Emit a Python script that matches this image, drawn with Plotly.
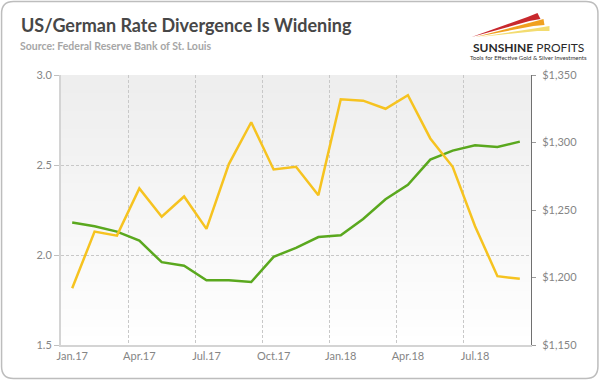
import plotly.graph_objects as go

months = ["Jan.17", "Feb.17", "Mar.17", "Apr.17", "May.17", "Jun.17", "Jul.17",
          "Aug.17", "Sep.17", "Oct.17", "Nov.17", "Dec.17", "Jan.18", "Feb.18",
          "Mar.18", "Apr.18", "May.18", "Jun.18", "Jul.18", "Aug.18", "Sep.18"]
rate_spread = [2.18, 2.16, 2.13, 2.08, 1.96, 1.94, 1.86, 1.86, 1.85, 1.99, 2.04,
               2.10, 2.11, 2.20, 2.31, 2.39, 2.53, 2.58, 2.61, 2.60, 2.63]
gold_price = [1192, 1234, 1231, 1266, 1245, 1260, 1236, 1284, 1315, 1280, 1282,
              1261, 1332, 1331, 1325, 1335, 1303, 1282, 1238, 1201, 1199]
left_ticks = [1.5, 2.0, 2.5, 3.0]
right_ticks = [1150, 1200, 1250, 1300, 1350]
right_labels = [f"${v:,}" for v in right_ticks]

W, H = 600, 380
L, R, T, B = 61, 531.5, 75, 345


def px(x):
    return (x - L) / (R - L)


def py(y):
    return (B - y) / (B - T)


fig = go.Figure()
fig.add_trace(go.Scatter(x=months, y=rate_spread, mode="lines",
                         line=dict(color="#5aa81e", width=2.5), yaxis="y",
                         showlegend=False))
fig.add_trace(go.Scatter(x=months, y=gold_price, mode="lines",
                         line=dict(color="#f6c320", width=2.5), yaxis="y2",
                         showlegend=False))

shapes = []
# gradient plot background
n = 30
for i in range(n):
    y0 = T + (B - T) * i / n
    y1 = T + (B - T) * (i + 1) / n
    t = i / (n - 1)
    c = int(238 + (255 - 238) * t)
    shapes.append(dict(type="rect", xref="paper", yref="paper", x0=0, x1=1,
                       y0=py(y1), y1=py(y0), line=dict(width=0),
                       fillcolor=f"rgb({c},{c},{c})", layer="below"))

# rounded outer border
x0b, x1b, y0b, y1b, r = 1.5, 598.5, 1.5, 378.5, 12
pts = (f"M {px(x0b + r)},{py(y0b)} L {px(x1b - r)},{py(y0b)} "
       f"Q {px(x1b)},{py(y0b)} {px(x1b)},{py(y0b + r)} "
       f"L {px(x1b)},{py(y1b - r)} Q {px(x1b)},{py(y1b)} {px(x1b - r)},{py(y1b)} "
       f"L {px(x0b + r)},{py(y1b)} Q {px(x0b)},{py(y1b)} {px(x0b)},{py(y1b - r)} "
       f"L {px(x0b)},{py(y0b + r)} Q {px(x0b)},{py(y0b)} {px(x0b + r)},{py(y0b)} Z")
shapes.append(dict(type="path", xref="paper", yref="paper", path=pts,
                   line=dict(color="#bdbdbd", width=1.5)))


# logo streaks
def streak(pts_px, color):
    p = "M " + " L ".join(f"{px(a)},{py(b)}" for a, b in pts_px) + " Z"
    return dict(type="path", xref="paper", yref="paper", path=p,
                line=dict(width=0), fillcolor=color)


shapes.append(streak([(472, 37), (528, 17), (538, 13), (541, 19), (530, 21)], "#c8282d"))
shapes.append(streak([(476, 37), (533, 22), (544, 19), (545, 25), (534, 26)], "#f0a020"))
shapes.append(streak([(480, 37), (538, 28), (550, 26), (550, 31), (538, 31)], "#f3dc70"))

annotations = [
    dict(text="<b>US/German Rate Divergence Is Widening</b>", x=px(19), y=py(25),
         xref="paper", yref="paper", xanchor="left", yanchor="middle",
         showarrow=False, font=dict(family="Lato", size=18, color="#474747")),
    dict(text="<b>Source: Federal Reserve Bank of St. Louis</b>", x=px(18), y=py(46),
         xref="paper", yref="paper", xanchor="left", yanchor="middle",
         showarrow=False, font=dict(family="Lato", size=10.5, color="#a6a6a6")),
    dict(text="<b>SUNSHINE</b> PROFITS", x=px(529), y=py(47),
         xref="paper", yref="paper", xanchor="center", yanchor="middle",
         showarrow=False, font=dict(family="Lato", size=12, color="#2a2a2a")),
    dict(text="Tools for Effective Gold &amp; Silver Investments", x=px(529), y=py(57),
         xref="paper", yref="paper", xanchor="center", yanchor="middle",
         showarrow=False, font=dict(family="Lato", size=6, color="#333333")),
]

fig.update_layout(
    width=W, height=H,
    margin=dict(l=L, r=W - R, t=T, b=H - B),
    paper_bgcolor="white", plot_bgcolor="rgba(0,0,0,0)",
    shapes=shapes, annotations=annotations,
    font=dict(family="Lato", size=11, color="#858585"),
    xaxis=dict(type="category", categoryorder="array", categoryarray=months,
               range=[-0.5, len(months) - 0.5], automargin=False,
               tickmode="linear", tick0=0, dtick=3, tickangle=0,
               tickson="boundaries", ticks="outside", ticklen=1,
               tickcolor="rgba(0,0,0,0)", showgrid=True,
               gridcolor="#c8c8c8", griddash="3px,2px", gridwidth=1,
               showline=True, linecolor="#d4d4d4", linewidth=2,
               tickfont=dict(size=11, color="#858585"), zeroline=False),
    yaxis=dict(range=[1.5, 3.0], tickvals=left_ticks, tickformat=".1f",
               ticks="outside", ticklen=5, tickcolor="#c0c0c0", automargin=False,
               showgrid=True, gridcolor="#c8c8c8", griddash="3px,2px",
               showline=True, linecolor="#d4d4d4", linewidth=2,
               zeroline=False, tickfont=dict(size=11, color="#858585")),
    yaxis2=dict(range=[1150, 1350], tickvals=right_ticks, ticktext=right_labels,
                overlaying="y", side="right", automargin=False,
                ticks="outside", ticklen=4, tickcolor="#9a9a9a", ticklabelstandoff=4,
                showgrid=False, showline=True, linecolor="#707070", linewidth=1,
                zeroline=False, tickfont=dict(size=11, color="#858585")),
)

fig.write_html("out.html", config={"displayModeBar": False},
               post_script="document.body.style.margin='0';")
